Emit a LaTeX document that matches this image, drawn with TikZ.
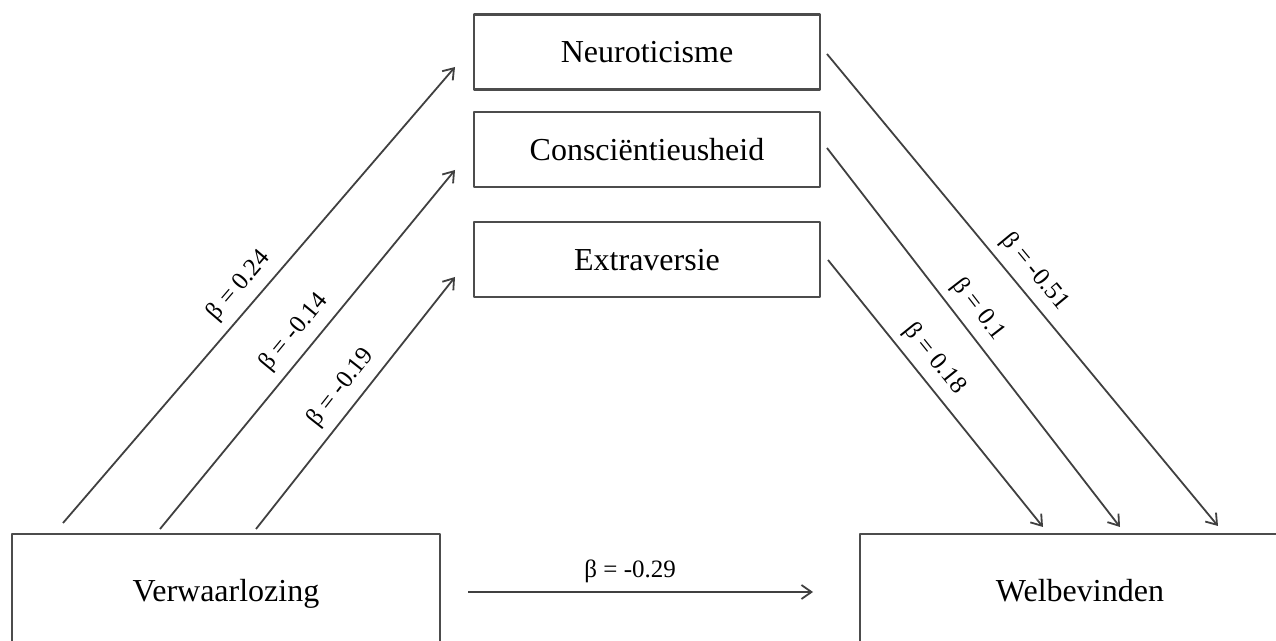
\documentclass[tikz,border=0pt]{standalone}
\usepackage{fontspec}
\setmainfont{Liberation Serif}
\usetikzlibrary{arrows.meta,positioning}
\tikzset{
  varbox/.style={draw=black!70, line width=1.2pt, fill=white,
    minimum width=173pt, minimum height=37.5pt, font=\fontsize{16}{19}\selectfont},
  bigbox/.style={varbox, minimum height=59pt, text height=11pt, text depth=2pt},
  effect/.style={-{Straight Barb[length=5pt,width=7pt]}, line width=0.9pt, draw=black!75},
  beta/.style={font=\fontsize{12.5}{15}\selectfont, sloped, above=1pt}
}

\begin{document}
\begin{tikzpicture}[x=0.5pt, y=-0.5pt, line join=round]
\clip (0,0) rectangle (1276,641);
% variabelen
\node[varbox]                        (neuro) at (647,52) {Neuroticisme};
\node[varbox, below=10pt of neuro]   (consc)             {Consciëntieusheid};
\node[varbox, below=16.5pt of consc] (extra)             {Extraversie};
\node[bigbox, minimum width=214pt]   (verw)  at (226,593) {Verwaarlozing};
\node[bigbox, minimum width=220pt]   (welb)  at (1080,593) {Welbevinden};
% begin- en eindpunten van de pijlen
\coordinate (v1) at (63,523);
\coordinate (v2) at (160,529);
\coordinate (v3) at (256,529);
\coordinate (n-in)  at (455,67);
\coordinate (c-in)  at (455,170);
\coordinate (e-in)  at (455,277);
\coordinate (n-out) at (827,54);
\coordinate (c-out) at (827,148);
\coordinate (e-out) at (828,260);
\coordinate (w1) at (1218,526);
\coordinate (w2) at (1120,527);
\coordinate (w3) at (1043,527);
\coordinate (v-out) at (468,592);
\coordinate (w-in)  at (813,592);
% a-paden
\draw[effect] (v1) -- node[beta,pos=0.49] {β = 0.24}  (n-in);
\draw[effect] (v2) -- node[beta,pos=0.51] {β = -0.14} (c-in);
\draw[effect] (v3) -- node[beta,pos=0.51] {β = -0.19} (e-in);
% b-paden
\draw[effect] (n-out) -- node[beta,pos=0.49] {β = -0.51} (w1);
\draw[effect] (c-out) -- node[beta,pos=0.46] {β = 0.1}   (w2);
\draw[effect] (e-out) -- node[beta,pos=0.42] {β = 0.18}  (w3);
% direct effect
\draw[effect] (v-out) -- node[beta,pos=0.47] {β = -0.29} (w-in);
\end{tikzpicture}
\end{document}
